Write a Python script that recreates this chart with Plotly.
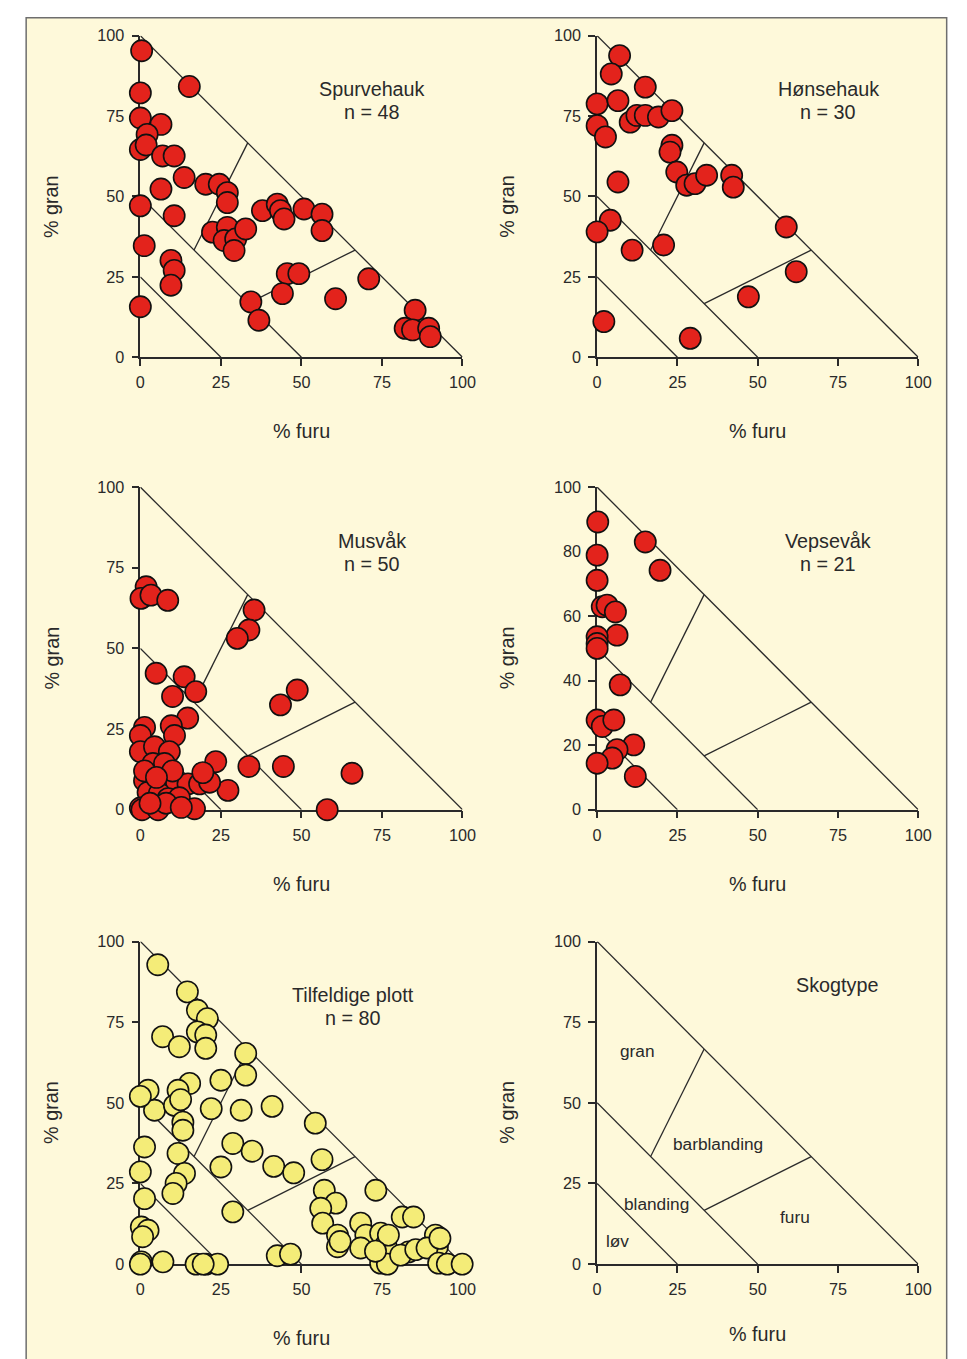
import plotly.graph_objects as go

W, H = 967, 1359

# empirical page->photo mapping compensation
SX, SY = 0.983, 0.988
AX, AY = 11.5, 15.5

# ---------------- data ----------------
spurv_furu = [0.4, 15.2, 0, 0, 6.4, 2.1, 0, 1.8, 6.9, 10.5, 13.6, 6.4, 20.3, 24.5, 27, 27, 0, 10.5, 37.9, 42.5,
              43.5, 44.6, 50.8, 56.4, 56.4, 22.4, 27, 26, 29.6, 29.1, 32.7, 1.2, 9.5, 10.5, 9.5, 45.6, 49.2, 44.1,
              34.3, 36.8, 70.9, 60.6, 0, 85.3, 82.2, 84.5, 89.5, 90]
spurv_gran = [95.3, 84.2, 82.2, 74.4, 72.4, 69.3, 64.6, 66, 62.6, 62.6, 55.9, 52.3, 53.8, 53.8, 51.2, 48.1, 47.1,
              44, 45.6, 47.6, 45.6, 43, 46.1, 44.5, 39.4, 38.9, 40.4, 36.3, 36.8, 33.2, 39.9, 34.7, 30.1, 27, 22.4,
              26, 26, 19.8, 17.2, 11.5, 24.4, 18.2, 15.7, 14.6, 9, 8.5, 9, 6.4]

honse_furu = [7.0, 4.4, 15, 0, 6.5, 0, 2.6, 10.3, 12.4, 15, 19.1, 23.3, 23.3, 22.7, 24.8, 27.9, 30.5, 34.1, 41.9,
              42.4, 6.5, 4.1, 0, 10.9, 20.7, 58.9, 62, 47.1, 2.1, 29]
honse_gran = [93.8, 88.1, 84, 78.8, 79.8, 72, 68.5, 73.1, 75.2, 75.2, 74.7, 76.7, 65.9, 63.8, 57.6, 53.5, 54, 56.6,
              56.6, 52.9, 54.5, 42.6, 39, 33.3, 34.9, 40.5, 26.6, 18.8, 11.1, 5.9]

musv_furu = [1.8, 0.2, 3.3, 8.5, 35.3, 33.7, 30.1, 4.9, 13.6, 17.2, 10, 48.7, 43.5, 14.7,
             23.4, 33.7, 44.4, 65.7, 27.2, 58,
             1.3, 0, 9.6, 10.6, 0, 4.4, 9, 3.9, 7.5, 1.3, 7.5, 11.2, 14.8, 18.4, 21.5, 2.4, 5.9, 8.6, 12.1, 0,
             0.5, 5.5, 8, 16.8, 12.7, 3, 19.4, 1.3, 10, 5]
musv_gran = [69.1, 65.5, 66.5, 64.9, 61.9, 55.7, 53.1, 42.3, 41.2, 36.6, 35.1, 37.1, 32.5, 28.4,
             14.9, 13.4, 13.4, 11.3, 6, 0,
             25.5, 23, 26, 23, 18, 19.5, 18, 14.3, 14.3, 9, 9, 8.5, 8, 8, 8.5, 5.4, 5, 3.4, 3.7, 0.5,
             0, 0, 2, 0.3, 0.7, 2, 11.5, 12, 12, 10]

veps_furu = [0.2, 0, 0, 15, 19.6, 1.6, 3.1, 5.7, 6.2, 0, 0, 0, 7.2, 0, 1.6, 5.2, 11.4, 6.2, 4.7, 0, 11.9]
veps_gran = [89.2, 78.9, 71.1, 83, 74.2, 62.9, 63.4, 61.3, 54.1, 53.6, 51.5, 50, 38.7, 27.8, 25.8, 27.8, 20.1,
             18.6, 16, 14.4, 10.3]

tilf_furu = [5.4, 14.6, 17.7, 20.8, 6.9, 12.1, 17.7, 20.3, 20.3, 32.7, 32.7, 25, 15.3, 11.7, 2.4, 4.4, 10.6, 22,
             31.3, 40.9, 54.3, 13.2, 13.2, 1.3, 28.7, 34.7, 11.7, 56.4, 0, 25, 41.4, 47.6, 13.7, 11.1, 10.1, 1.3,
             28.7, 0.3, 2.4, 0.7, 0.3, 7, 17.3, 20.4, 24, 0, 42.5, 46.6,
             57.1, 60.7, 73.1, 56, 56.6, 61.2, 61.2, 68.4, 70, 68.4, 74.6, 76.2, 74.6, 76.7, 81.3, 84.8, 83.3, 80.8,
             85.5, 91.6, 92.2, 89, 92.6, 95.3, 99.9, 19.5, 0, 12.5, 93, 77, 73, 62]
tilf_gran = [92.8, 84.4, 78.7, 76.1, 70.5, 67.4, 72, 71, 66.9, 65.3, 58.6, 57, 56, 53.9, 53.9, 47.7, 49.2, 48.2,
             47.7, 48.9, 43.7, 44, 41.5, 36.3, 37.4, 35, 34.3, 32.4, 28.6, 30.1, 30.3, 28.3, 28.1, 25, 21.9, 20.3,
             16.2, 11.5, 10.5, 8.5, 0.7, 0.7, 0, 0, 0, 0, 2.6, 3.1,
             22.9, 18.9, 22.9, 17.3, 12.7, 9, 5.4, 12.7, 9, 5, 9.6, 5.9, 0.3, 0, 14.6, 14.6, 3.8, 2.8,
             4.5, 9, 5.4, 5, 0.3, 0, 0, 0, 52, 51, 8, 9, 4, 7]

# boundary lines of the forest-type diagram (furu, gran) pairs
bound_furu = [[0, 100], [0, 50], [0, 25], [100 / 6, 100 / 3], [100 / 3, 200 / 3]]
bound_gran = [[100, 0], [50, 0], [25, 0], [100 / 3, 200 / 3], [100 / 6, 100 / 3]]

ticks_25 = [0, 25, 50, 75, 100]
ticks_20 = [0, 20, 40, 60, 80, 100]

panels = [
    dict(title="Spurvehauk", n="n = 48", fx=spurv_furu, gy=spurv_gran, color="#E3231C", yt=ticks_25),
    dict(title="Hønsehauk", n="n = 30", fx=honse_furu, gy=honse_gran, color="#E3231C", yt=ticks_25),
    dict(title="Musvåk", n="n = 50", fx=musv_furu, gy=musv_gran, color="#E3231C", yt=ticks_25),
    dict(title="Vepsevåk", n="n = 21", fx=veps_furu, gy=veps_gran, color="#E3231C", yt=ticks_20),
    dict(title="Tilfeldige plott", n="n = 80", fx=tilf_furu, gy=tilf_gran, color="#F4EC78", yt=ticks_25),
    dict(title="Skogtype", n=None, fx=[], gy=[], color="#E3231C", yt=ticks_25),
]

skog_labels = ["gran", "barblanding", "blanding", "løv", "furu"]
skog_lab_x = [12.7, 37.6, 18.6, 6.2, 61.5]
skog_lab_y = [66, 37.3, 18.6, 7.3, 14.6]

# ---------------- layout geometry (target photo pixels) ----------------
col_px = [(139, 462), (597, 919)]
row_px = [(34, 356), (486, 809), (941, 1264)]


def px_x(p):
    return (p / SX - AX) / W


def px_y(p):
    return 1 - (p / SY - AY) / H


FONT = "Liberation Sans, Arial, sans-serif"
INK = "#2a2a2a"
K = 1 / ((SX + SY) / 2)

fig = go.Figure()
layout = dict(
    width=W, height=H, margin=dict(l=0, r=0, t=0, b=0),
    paper_bgcolor="white", plot_bgcolor="rgba(0,0,0,0)",
    showlegend=False, font=dict(family=FONT, color=INK),
    shapes=[dict(type="rect", xref="paper", yref="paper",
                 x0=px_x(24.5), x1=px_x(947.5), y0=-0.05, y1=0.9995,
                 fillcolor="#FEF9DA", line=dict(color="#6e6e6e", width=1.5), layer="below")],
    annotations=[],
)

for i, p in enumerate(panels):
    r, c = divmod(i, 2)
    k = "" if i == 0 else str(i + 1)
    xa, ya = "x" + k, "y" + k
    x0, x1 = col_px[c]
    yt, yb = row_px[r]
    layout["xaxis" + k] = dict(
        domain=[px_x(x0), px_x(x1)], anchor=ya, range=[0, 100], tickvals=ticks_25,
        showline=True, linecolor=INK, linewidth=1.5, ticks="outside", ticklen=7, tickwidth=1.5,
        tickcolor=INK, showgrid=False, zeroline=False, layer="below traces",
        tickfont=dict(size=16 * K, family=FONT, color=INK), ticklabelstandoff=3, fixedrange=True)
    layout["yaxis" + k] = dict(
        domain=[px_y(yb), px_y(yt)], anchor=xa, range=[0, 100], tickvals=p["yt"],
        showline=True, linecolor=INK, linewidth=1.5, ticks="outside", ticklen=7, tickwidth=1.5,
        tickcolor=INK, showgrid=False, zeroline=False, layer="below traces",
        tickfont=dict(size=16 * K, family=FONT, color=INK), ticklabelstandoff=4, fixedrange=True)

    for bx, by in zip(bound_furu, bound_gran):
        fig.add_trace(go.Scatter(x=bx, y=by, mode="lines", xaxis=xa, yaxis=ya,
                                 line=dict(color=INK, width=1.3), hoverinfo="skip", cliponaxis=False))
    if p["fx"]:
        fig.add_trace(go.Scatter(x=p["fx"], y=p["gy"], mode="markers", xaxis=xa, yaxis=ya, cliponaxis=False,
                                 marker=dict(size=21 * K, color=p["color"],
                                             line=dict(color="#111111", width=1.6))))

    # panel titles
    tfont = dict(size=19.5 * K, family=FONT, color=INK)
    if p["n"]:
        tx = 72 if i != 4 else 66
        layout["annotations"].append(dict(x=tx, y=83.3, xref=xa, yref=ya, text=p["title"], showarrow=False,
                                          xanchor="center", yanchor="middle", font=tfont))
        layout["annotations"].append(dict(x=tx, y=76.2, xref=xa, yref=ya, text=p["n"], showarrow=False,
                                          xanchor="center", yanchor="middle", font=tfont))
    else:
        layout["annotations"].append(dict(x=74.6, y=86.6, xref=xa, yref=ya, text=p["title"], showarrow=False,
                                          xanchor="center", yanchor="middle", font=tfont))
        for t, lx, ly in zip(skog_labels, skog_lab_x, skog_lab_y):
            layout["annotations"].append(dict(x=lx, y=ly, xref=xa, yref=ya, text=t, showarrow=False,
                                              xanchor="center", yanchor="middle",
                                              font=dict(size=17 * K, family=FONT, color=INK)))

    # axis titles
    gx = 50 if c == 0 else 507
    layout["annotations"].append(dict(x=px_x(gx), y=px_y(yt + 171), xref="paper", yref="paper",
                                      text="% gran", textangle=-90, showarrow=False,
                                      xanchor="center", yanchor="middle", font=tfont))
    fy = yb + 74 if i != 5 else yb + 70
    layout["annotations"].append(dict(x=px_x((x0 + x1) / 2), y=px_y(fy), xref="paper", yref="paper",
                                      text="% furu", showarrow=False,
                                      xanchor="center", yanchor="middle", font=tfont))

fig.update_layout(**layout)
fig.write_html("out.html")
